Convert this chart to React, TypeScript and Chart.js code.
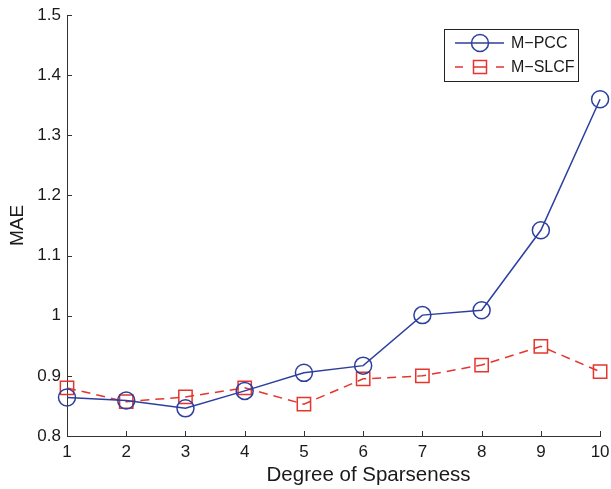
import React, { useEffect, useRef } from 'react';
import { Chart, registerables } from 'chart.js';

Chart.register(...registerables);

const xValues = [1, 2, 3, 4, 5, 6, 7, 8, 9, 10];
const mPCC = [0.864, 0.859, 0.846, 0.875, 0.905, 0.917, 1.001, 1.009, 1.142, 1.36];
const mSLCF = [0.88, 0.857, 0.865, 0.88, 0.853, 0.895, 0.9, 0.918, 0.949, 0.907];
const seriesNames = ['M\u2212PCC', 'M\u2212SLCF'];
const xTicks = [1, 2, 3, 4, 5, 6, 7, 8, 9, 10];
const xTickLabels = ['1', '2', '3', '4', '5', '6', '7', '8', '9', '10'];
const yTicks = [0.8, 0.9, 1.0, 1.1, 1.2, 1.3, 1.4, 1.5];
const yTickLabels = ['0.8', '0.9', '1', '1.1', '1.2', '1.3', '1.4', '1.5'];
const xTitle = 'Degree of Sparseness';
const yTitle = 'MAE';

const BLUE = '#2c3f9e';
const RED = '#e5352c';
const AXIS = '#333333';
const TEXT = '#1a1a1a';
const FONT = "'Liberation Sans', Arial, Helvetica, sans-serif";

const decorPlugin = {
  id: 'decor',
  afterDraw(chart: any) {
    const ctx = chart.ctx as CanvasRenderingContext2D;
    const { chartArea } = chart;
    const xs = chart.scales.x;
    const ys = chart.scales.y;
    ctx.save();
    // inward tick marks
    ctx.strokeStyle = AXIS;
    ctx.lineWidth = 1;
    ctx.beginPath();
    xTicks.forEach((v) => {
      const px = Math.round(xs.getPixelForValue(v)) + 0.5;
      ctx.moveTo(px, chartArea.bottom);
      ctx.lineTo(px, chartArea.bottom - 5);
    });
    yTicks.forEach((v) => {
      const py = Math.round(ys.getPixelForValue(v)) + 0.5;
      ctx.moveTo(chartArea.left, py);
      ctx.lineTo(chartArea.left + 5, py);
    });
    ctx.stroke();

    // x axis title
    ctx.fillStyle = TEXT;
    ctx.font = `20.5px ${FONT}`;
    ctx.textAlign = 'center';
    ctx.textBaseline = 'middle';
    ctx.fillText(xTitle, (chartArea.left + chartArea.right) / 2 + 35, 475);

    // legend
    const bx = 444, by = 29, bw = 134, bh = 52;
    ctx.fillStyle = '#ffffff';
    ctx.fillRect(bx, by, bw, bh);
    ctx.strokeStyle = '#222222';
    ctx.lineWidth = 1;
    ctx.strokeRect(bx + 0.5, by + 0.5, bw, bh);

    const rows = [43, 67];
    ctx.strokeStyle = BLUE;
    ctx.lineWidth = 1.5;
    ctx.beginPath();
    ctx.moveTo(455, rows[0]);
    ctx.lineTo(504, rows[0]);
    ctx.stroke();
    ctx.beginPath();
    ctx.arc(480, rows[0], 8.5, 0, Math.PI * 2);
    ctx.stroke();
    ctx.strokeStyle = RED;
    ctx.beginPath();
    ctx.moveTo(455, rows[1]);
    ctx.lineTo(463, rows[1]);
    ctx.moveTo(473, rows[1]);
    ctx.lineTo(486, rows[1]);
    ctx.moveTo(496, rows[1]);
    ctx.lineTo(504, rows[1]);
    ctx.stroke();
    ctx.strokeRect(473.5, rows[1] - 6.5, 13, 13);

    ctx.fillStyle = TEXT;
    ctx.font = `16px ${FONT}`;
    ctx.textAlign = 'left';
    ctx.textBaseline = 'middle';
    ctx.fillText(seriesNames[0], 511, rows[0] + 1);
    ctx.fillText(seriesNames[1], 511, rows[1] + 1);
    ctx.restore();
  },
};

export default function App() {
  const ref = useRef<HTMLCanvasElement | null>(null);

  useEffect(() => {
    const canvas = ref.current;
    if (!canvas) return;
    const chart = new Chart(canvas, {
      type: 'line',
      data: {
        datasets: [
          {
            label: seriesNames[0],
            data: xValues.map((x, i) => ({ x, y: mPCC[i] })),
            borderColor: BLUE,
            backgroundColor: 'rgba(0,0,0,0)',
            borderWidth: 1.5,
            pointStyle: 'circle',
            pointRadius: 8.5,
            pointBorderWidth: 1.5,
            pointBorderColor: BLUE,
            pointBackgroundColor: 'rgba(0,0,0,0)',
            tension: 0,
            clip: false as any,
          },
          {
            label: seriesNames[1],
            data: xValues.map((x, i) => ({ x, y: mSLCF[i] })),
            borderColor: RED,
            backgroundColor: 'rgba(0,0,0,0)',
            borderWidth: 1.5,
            borderDash: [9, 6],
            pointStyle: 'rect',
            pointRadius: 9.4,
            pointBorderWidth: 1.5,
            pointBorderColor: RED,
            pointBackgroundColor: 'rgba(0,0,0,0)',
            tension: 0,
            clip: false as any,
          },
        ],
      },
      options: {
        responsive: false,
        animation: false,
        devicePixelRatio: 1,
        layout: { padding: { top: 15, right: 7, left: 0, bottom: 0 } },
        plugins: {
          legend: { display: false },
          tooltip: { enabled: false },
        },
        scales: {
          x: {
            type: 'linear',
            min: 1,
            max: 10,
            afterBuildTicks: (scale: any) => {
              scale.ticks = xTicks.map((v) => ({ value: v }));
            },
            afterFit: (scale: any) => {
              scale.height = 53;
              scale.paddingLeft = 0;
              scale.paddingRight = 0;
            },
            ticks: {
              callback: (_v: any, i: number) => xTickLabels[i],
              font: { family: FONT, size: 17 },
              color: TEXT,
              padding: 6,
              maxRotation: 0,
              autoSkip: false,
            },
            grid: { display: true, drawOnChartArea: false, drawTicks: false },
            border: { display: true, color: AXIS, width: 1 },
          },
          y: {
            type: 'linear',
            min: 0.8,
            max: 1.5,
            afterBuildTicks: (scale: any) => {
              scale.ticks = yTicks.map((v) => ({ value: v }));
            },
            afterFit: (scale: any) => {
              scale.width = 67;
              scale.paddingTop = 0;
              scale.paddingBottom = 0;
            },
            ticks: {
              callback: (_v: any, i: number) => yTickLabels[i],
              font: { family: FONT, size: 17 },
              color: TEXT,
              padding: 6,
              autoSkip: false,
            },
            title: {
              display: true,
              text: yTitle,
              font: { family: FONT, size: 19 },
              color: TEXT,
              padding: { top: 6, bottom: 0 },
            },
            grid: { display: true, drawOnChartArea: false, drawTicks: false },
            border: { display: true, color: AXIS, width: 1 },
          },
        },
      },
      plugins: [decorPlugin],
    });
    return () => chart.destroy();
  }, []);

  return (
    <div style={{ position: 'absolute', left: 0, top: 0, width: 611, height: 489, background: '#fff' }}>
      <canvas ref={ref} width={611} height={489} style={{ display: 'block' }} />
    </div>
  );
}
